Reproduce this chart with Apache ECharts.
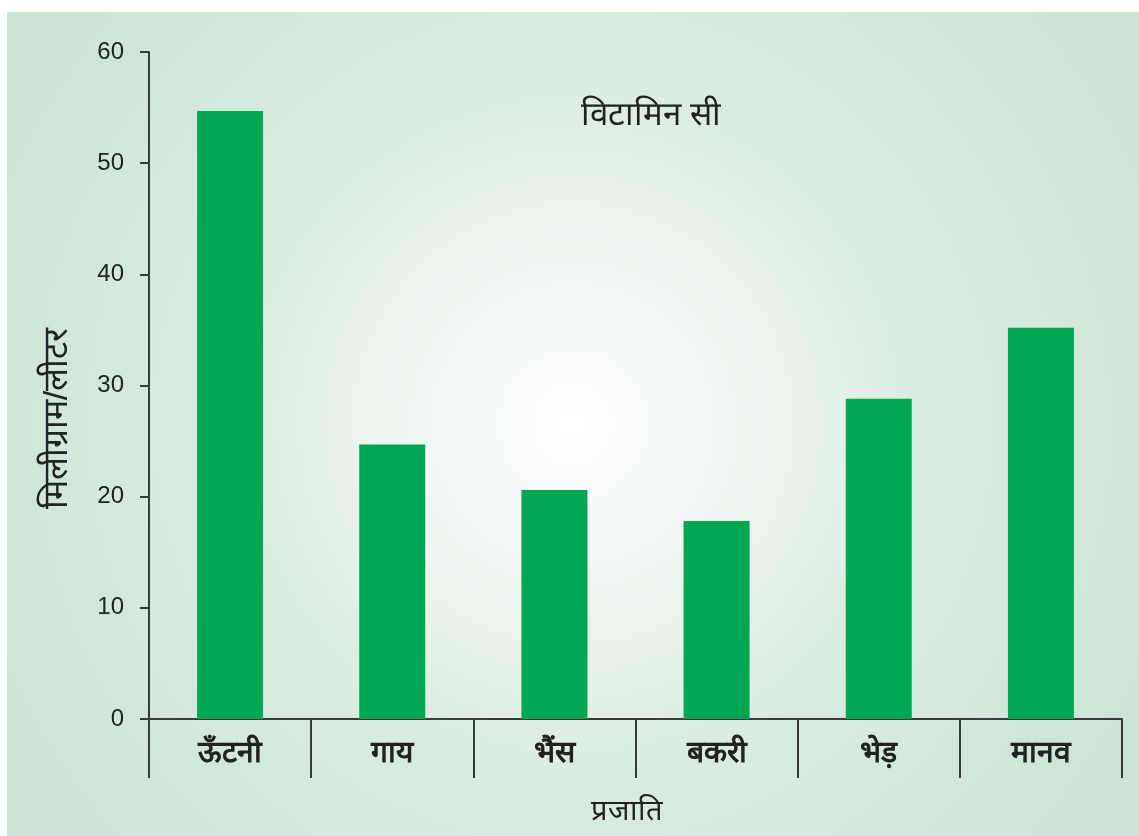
<!DOCTYPE html>
<html>
<head>
<meta charset="utf-8">
<script src="https://cdn.jsdelivr.net/npm/echarts@6/dist/echarts.min.js"></script>
<style>
html,body{margin:0;padding:0;background:#fff;}
#chart{width:1139px;height:836px;}
</style>
</head>
<body>
<div id="chart"></div>
<script>
const categories = ['ऊँटनी', 'गाय', 'भैंस', 'बकरी', 'भेड़', 'मानव'];
const vitaminC = [54.7, 24.7, 20.6, 17.8, 28.8, 35.2];
const titleText = 'विटामिन सी';
const yName = 'मिलीग्राम/लीटर';
const xName = 'प्रजाति';

const chart = echarts.init(document.getElementById('chart'));
const axisColor = '#3a3a3a';
const textColor = '#222';
chart.setOption({
  backgroundColor: '#ffffff',
  animation: false,
  graphic: [{
    type: 'rect',
    z: -10,
    shape: {x: 7, y: 12, width: 1132, height: 824},
    style: {
      fill: {
        type: 'radial', x: 0.5, y: 0.5, r: 0.78,
        colorStops: [
          {offset: 0, color: '#ffffff'},
          {offset: 0.22, color: '#f2f8f4'},
          {offset: 0.55, color: '#d9ece0'},
          {offset: 1, color: '#cbe5d4'}
        ]
      }
    },
    silent: true
  }],
  title: {
    text: titleText,
    left: 646, top: 94,
    textAlign: 'center',
    textStyle: {fontSize: 33, fontWeight: 'normal', color: textColor}
  },
  grid: {left: 149, right: 17, top: 52, bottom: 117, containLabel: false},
  xAxis: {
    type: 'category',
    data: categories,
    axisLine: {show: true, lineStyle: {color: axisColor, width: 2}},
    axisTick: {show: true, interval: 0, length: 59, lineStyle: {color: axisColor, width: 2}},
    axisLabel: {interval: 0, margin: 20, fontSize: 30, fontWeight: 'bold', color: textColor},
    name: xName,
    nameLocation: 'middle',
    nameGap: 78,
    nameTextStyle: {fontSize: 29, color: textColor, padding: [0, 18, 0, 0]}
  },
  yAxis: {
    type: 'value',
    min: 0, max: 60, interval: 10,
    axisLine: {show: true, lineStyle: {color: axisColor, width: 2}},
    axisTick: {show: true, length: 9, lineStyle: {color: axisColor, width: 2}},
    axisLabel: {margin: 25, fontSize: 24, color: textColor},
    splitLine: {show: false},
    name: yName,
    nameLocation: 'middle',
    nameRotate: 90,
    nameGap: 74,
    nameTextStyle: {fontSize: 34, color: textColor, padding: [0, 66, 0, 0]}
  },
  series: [{
    type: 'bar',
    data: vitaminC,
    barWidth: 66,
    itemStyle: {color: '#00a651'}
  }]
});
</script>
</body>
</html>
